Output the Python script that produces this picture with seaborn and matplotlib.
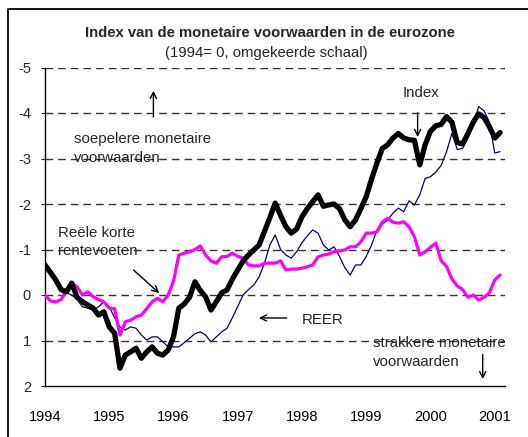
import numpy as np
import pandas as pd
import matplotlib
matplotlib.use('Agg')
import matplotlib.pyplot as plt
from matplotlib.ticker import MultipleLocator
from matplotlib.lines import Line2D
import seaborn as sns

# maandelijkse reeksen, jan 1994 t/m feb 2001 (omgekeerde schaal)
maanden = np.arange(86)
index_mcv = [-0.66, -0.50, -0.33, -0.12, -0.07, -0.26, 0.05, 0.15, 0.22, 0.29,
             0.44, 0.37, 0.70, 0.84, 1.61, 1.32, 1.25, 1.17, 1.39, 1.25,
             1.14, 1.28, 1.32, 1.21, 0.92, 0.29, 0.20, 0.05, -0.29, -0.10,
             0.04, 0.33, 0.15, -0.05, -0.11, -0.35, -0.55, -0.75, -0.88, -0.99,
             -1.10, -1.40, -1.70, -2.02, -1.75, -1.50, -1.36, -1.45, -1.72, -1.90,
             -2.05, -2.20, -1.95, -1.98, -2.00, -1.90, -1.65, -1.50, -1.65, -1.90,
             -2.16, -2.55, -2.90, -3.22, -3.30, -3.45, -3.55, -3.45, -3.41, -3.40,
             -2.86, -3.30, -3.60, -3.72, -3.75, -3.92, -3.80, -3.35, -3.32, -3.55,
             -3.80, -3.98, -3.90, -3.70, -3.45, -3.57]
reer = [-0.66, -0.50, -0.37, -0.15, -0.05, 0.00, 0.10, 0.26, 0.29, 0.33,
        0.26, 0.15, 0.26, 0.50, 0.70, 0.77, 0.70, 0.73, 0.88, 0.99,
        0.92, 0.92, 1.03, 1.14, 1.14, 1.14, 1.05, 0.95, 0.85, 0.81,
        0.88, 1.03, 0.92, 0.81, 0.73, 0.50, 0.25, 0.00, -0.12, -0.22,
        -0.40, -0.70, -1.10, -1.32, -1.00, -0.88, -0.81, -0.95, -1.15, -1.30,
        -1.43, -1.36, -1.10, -0.99, -1.06, -0.85, -0.60, -0.44, -0.66, -0.66,
        -0.85, -1.10, -1.43, -1.55, -1.65, -1.80, -1.91, -1.83, -2.07, -1.98,
        -2.20, -2.56, -2.60, -2.70, -2.85, -3.15, -3.55, -3.20, -3.22, -3.45,
        -3.75, -4.14, -4.05, -3.80, -3.12, -3.15]
rente = [0.00, 0.13, 0.15, 0.10, -0.10, -0.26, -0.18, 0.00, -0.07, 0.04,
         0.10, 0.15, 0.29, 0.30, 0.88, 0.59, 0.55, 0.48, 0.44, 0.30,
         0.15, 0.07, 0.15, 0.00, -0.30, -0.88, -0.92, -0.95, -1.00, -1.08,
         -0.88, -0.75, -0.70, -0.84, -0.85, -0.92, -0.85, -0.81, -0.66, -0.64,
         -0.64, -0.70, -0.70, -0.70, -0.75, -0.55, -0.57, -0.57, -0.59, -0.62,
         -0.66, -0.84, -0.88, -0.90, -0.95, -0.97, -0.99, -1.06, -1.06, -1.17,
         -1.36, -1.36, -1.39, -1.60, -1.69, -1.60, -1.58, -1.61, -1.50, -1.28,
         -0.88, -0.95, -1.05, -1.14, -0.75, -0.63, -0.35, -0.20, -0.12, 0.05,
         0.00, 0.11, 0.05, -0.05, -0.33, -0.44]
jaren = [1994, 1995, 1996, 1997, 1998, 1999, 2000, 2001]
y_ticks = [-5, -4, -3, -2, -1, 0, 1, 2]

df = pd.DataFrame({'t': 1994 + maanden / 12, 'Index': index_mcv,
                   'REER': reer, 'Rente': rente})

sns.set_style('white')
plt.rcParams['font.family'] = ['Liberation Sans', 'DejaVu Sans']

fig = plt.figure(figsize=(5.28, 4.37), dpi=100)
ax = fig.add_axes([45 / 528, 51 / 437, 460 / 528, 318.5 / 437])

for yv in y_ticks[:-1]:
    ax.axhline(yv, color='#333333', lw=1.0, dashes=(5.5, 3.6), zorder=1)

sns.lineplot(data=df, x='t', y='REER', color='#000080', lw=0.9, ax=ax, zorder=3)
sns.lineplot(data=df, x='t', y='Rente', color='#ff00ff', lw=2.3, ax=ax, zorder=4)
sns.lineplot(data=df, x='t', y='Index', color='black', lw=3.8, ax=ax, zorder=5)

ax.set_xlim(1994.0, 2001.16)
ax.set_ylim(2, -5)
ax.set_xlabel('')
ax.set_ylabel('')
ax.set_xticks(jaren)
ax.set_xticklabels([str(j) for j in jaren])
ax.xaxis.set_minor_locator(MultipleLocator(1 / 12))
ax.set_yticks(y_ticks)
ax.set_yticklabels([str(v) for v in y_ticks])
ax.tick_params(axis='x', which='major', direction='in', length=5, width=0.8,
               labelsize=10.5, pad=17, colors='black')
ax.tick_params(axis='x', which='minor', direction='in', length=3, width=0.8)
ax.tick_params(axis='y', direction='out', length=3, width=0.8, labelsize=10.5,
               pad=7, left=True)
for s in ['top', 'right']:
    ax.spines[s].set_visible(False)
for s in ['left', 'bottom']:
    ax.spines[s].set_color('black')
    ax.spines[s].set_linewidth(1.0)

# titels
fig.text(0.511, 1 - 33 / 437, 'Index van de monetaire voorwaarden in de eurozone',
         ha='center', va='center', fontsize=10.7, fontweight='bold')
fig.text(0.504, 1 - 53 / 437, '(1994= 0, omgekeerde schaal)',
         ha='center', va='center', fontsize=10.7)

arrow = dict(arrowstyle='->', color='black', lw=1.0, mutation_scale=11)
fs = 10.8

ax.text(1994.456, -3.22, 'soepelere monetaire\nvoorwaarden', ha='left', va='center',
        fontsize=fs, linespacing=1.45)
ax.annotate('', xy=(1995.687, -4.55), xytext=(1995.687, -3.85), arrowprops=arrow)

ax.text(1999.845, -4.44, 'Index', ha='center', va='center', fontsize=fs)
ax.annotate('', xy=(1999.8, -3.41), xytext=(1999.8, -4.07), arrowprops=arrow)

ax.text(1994.207, -1.165, 'Reële korte\nrentevoeten', ha='left', va='center',
        fontsize=fs, linespacing=1.45)
ax.annotate('', xy=(1995.81, 0.0), xytext=(1995.346, -0.59), arrowprops=arrow)

ax.text(1997.99, 0.55, 'REER', ha='left', va='center', fontsize=fs)
ax.annotate('', xy=(1997.287, 0.505), xytext=(1997.805, 0.505), arrowprops=arrow)

ax.text(1999.098, 1.265, 'strakkere monetaire\nvoorwaarden', ha='left', va='center',
        fontsize=fs, linespacing=1.45)
ax.annotate('', xy=(2000.813, 1.91), xytext=(2000.813, 1.25), arrowprops=arrow)

# kader rond de figuur (alleen boven en links zichtbaar)
fig.add_artist(Line2D([8 / 528, 8 / 528, 1.0], [0.0, 1 - 8.5 / 437, 1 - 8.5 / 437],
                      transform=fig.transFigure, color='black', lw=1.3))

fig.savefig('out.png', dpi=100)
